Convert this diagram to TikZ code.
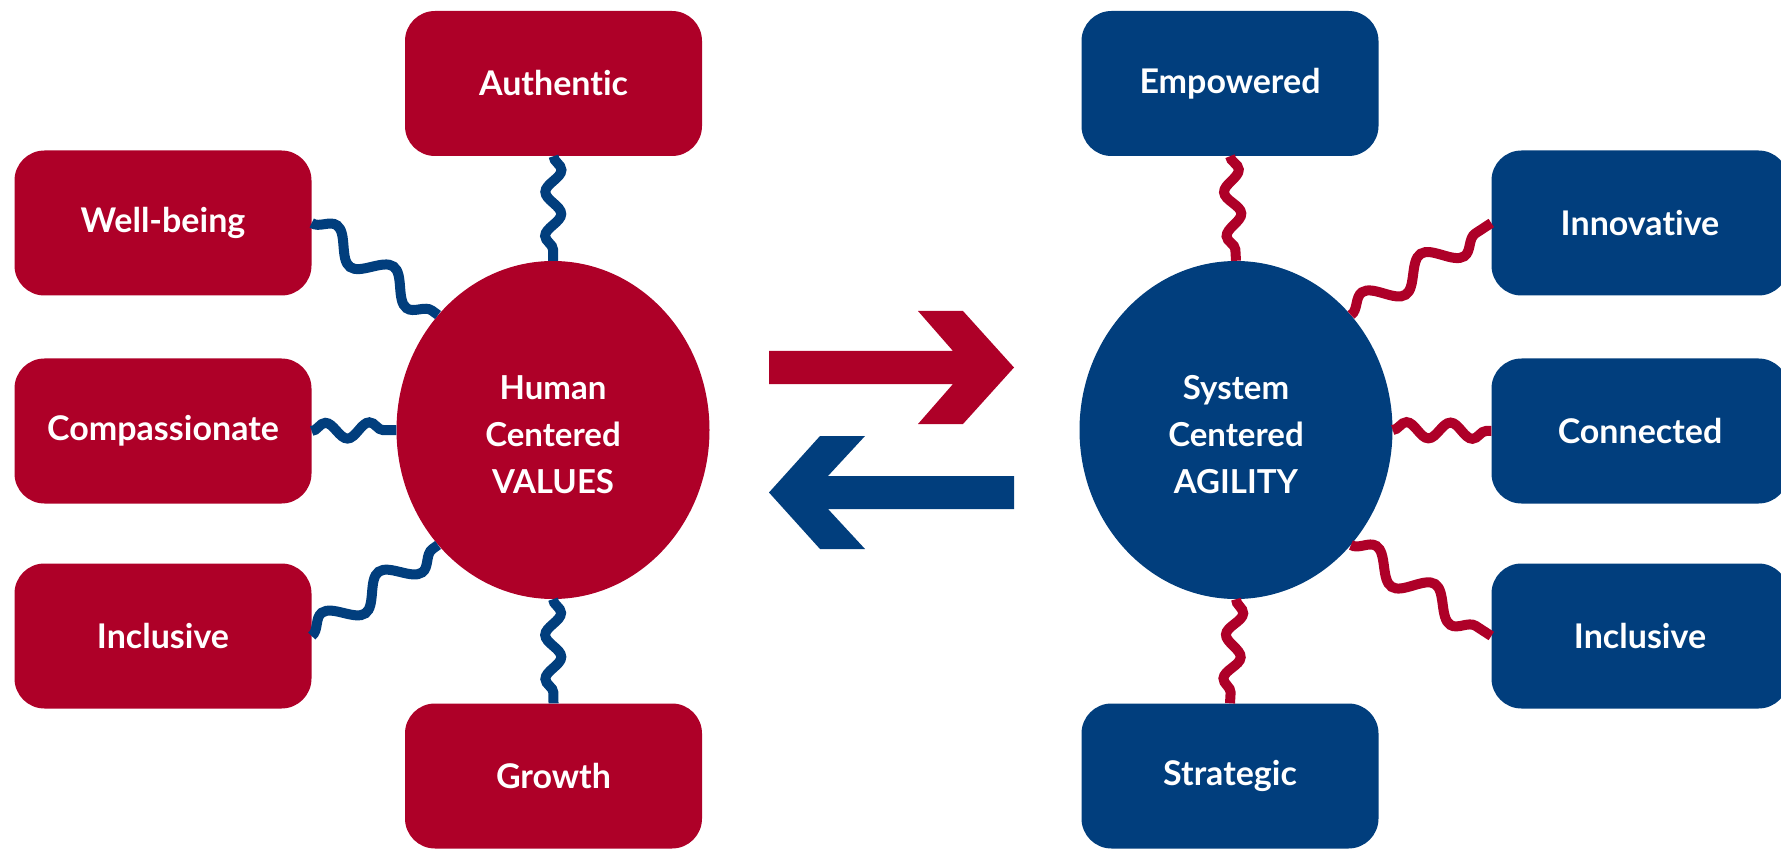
\documentclass[tikz,border=0pt]{standalone}
\usepackage{fontspec}
\setmainfont{Lato}[Ligatures={NoCommon}]
\usetikzlibrary{shapes.geometric,decorations.pathmorphing}
\definecolor{hred}{RGB}{174,0,40}
\definecolor{hblue}{RGB}{1,62,125}
\tikzset{
  box/.style={rectangle, rounded corners=30pt, minimum width=297pt, minimum height=145pt, text=white, font=\fontsize{34}{40}\selectfont\bfseries, inner sep=0pt},
  redbox/.style={box, fill=hred},
  bluebox/.style={box, fill=hblue},
  hub/.style={ellipse, minimum width=313pt, minimum height=338pt, inner sep=0pt},
  hubtext/.style={text=white, align=center, inner sep=0pt, font=\fontsize{33}{47}\selectfont\bfseries},
  wave/.style={line width=10pt, decorate, decoration={snake, segment length=44pt, amplitude=8pt}},
  dwave/.style={line width=10pt, decorate, decoration={snake, segment length=70pt, amplitude=13pt}},
}
\begin{document}
\begin{tikzpicture}[x=1pt,y=-1pt]
\useasboundingbox (0,0) rectangle (1781,850);
% left side
\node[hub, fill=hred] (hv) at (553,430) {};
\node[hubtext] (hvt) at ([yshift=-5pt]hv.center) {Human\\Centered\\VALUES};
\node[redbox] (auth) at (553.5,83.5) {Authentic};
\node[redbox] (wb) at (163,223) {Well-being};
\node[redbox] (comp) at (163,431) {Compassionate};
\node[redbox] (incl) at (163,636) {Inclusive};
\node[redbox] (grow) at (553.5,776) {Growth};
% right side
\node[hub, fill=hblue] (sa) at (1236,430) {};
\node[hubtext] (sat) at ([yshift=-5pt]sa.center) {System\\Centered\\AGILITY};
\node[bluebox] (emp) at (1230,83.5) {Empowered};
\node[bluebox] (inno) at (1640,223) {Innovative};
\node[bluebox] (conn) at (1640,431) {Connected};
\node[bluebox] (incr) at (1640,636) {Inclusive};
\node[bluebox] (strat) at (1230,776) {Strategic};
% connectors left
\draw[wave, hblue] (auth.south) -- (hv.north);
\draw[dwave, hblue] (wb.east) -- (hv.135);
\draw[wave, hblue] (comp.east) -- (hv.west);
\draw[dwave, hblue] (incl.east) -- (hv.225);
\draw[wave, hblue] (hv.south) -- (grow.north);
% connectors right
\draw[wave, hred] (emp.south) -- (sa.north);
\draw[dwave, hred] (sa.45) -- (inno.west);
\draw[wave, hred] (sa.east) -- (conn.west);
\draw[dwave, hred] (sa.-45) -- (incr.west);
\draw[wave, hred] (sa.south) -- (strat.north);
% arrows
\fill[hred] (769,351) -- (953,351) -- (918,311) -- (963,311) -- (1014,367.5) -- (963,424) -- (918,424) -- (953,384) -- (769,384) -- cycle;
\fill[hblue] (1014,476) -- (828,476) -- (865,436) -- (820,436) -- (769,492.5) -- (820,549) -- (865,549) -- (828,509) -- (1014,509) -- cycle;
\end{tikzpicture}
\end{document}
